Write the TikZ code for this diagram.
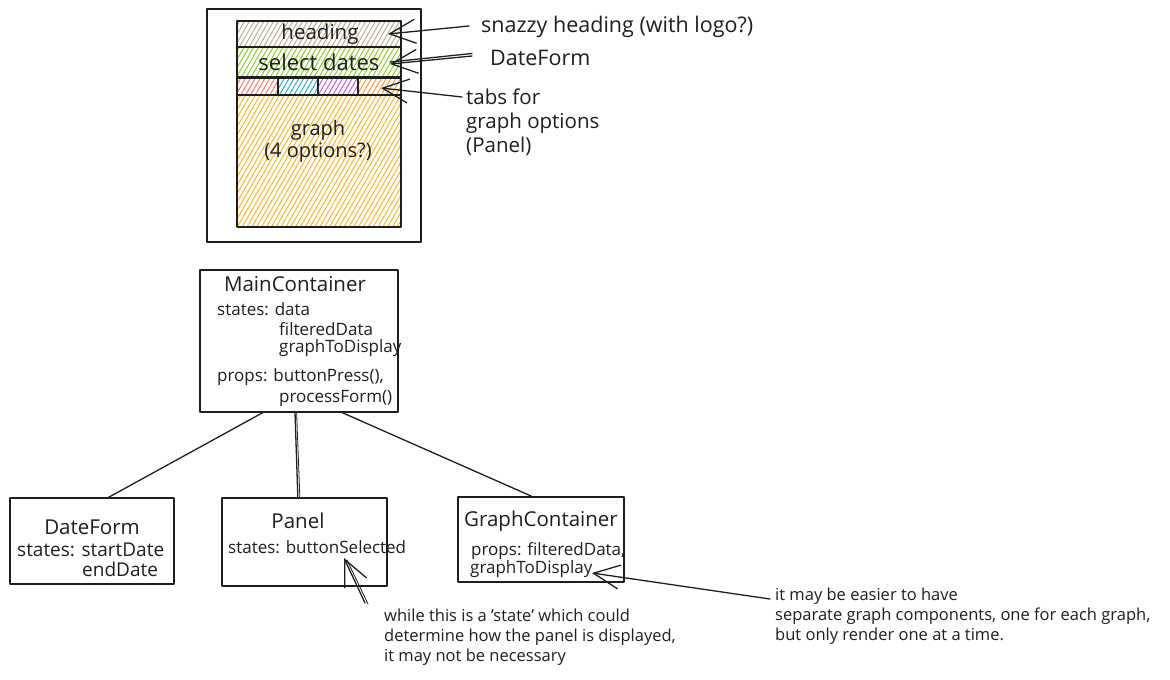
\documentclass[tikz,border=0pt]{standalone}
\usepackage{fontspec}
\setmainfont{Open Sans}
\usetikzlibrary{arrows.meta,patterns.meta,calc}
\definecolor{ink}{HTML}{1E1E1E}
\definecolor{hgray}{HTML}{BDB092}
\definecolor{hgreen}{HTML}{8CCF2A}
\definecolor{hred}{HTML}{FF7B6B}
\definecolor{hteal}{HTML}{22B0C2}
\definecolor{hpurple}{HTML}{C45BDF}
\definecolor{horange}{HTML}{FD9A2A}
\definecolor{hyellow}{HTML}{FBB826}
\begin{document}
\begin{tikzpicture}[x=1pt,y=-1pt,
  ln/.style={line width=1.3pt, draw=ink, line cap=round, line join=round},
  box/.style={ln, rectangle, inner sep=0pt},
  big/.style={font=\fontsize{20.5}{23}\selectfont, inner sep=0pt, text=ink},
  mid/.style={font=\fontsize{17}{20}\selectfont, inner sep=0pt, text=ink},
  small/.style={font=\fontsize{16.5}{20}\selectfont, inner sep=0pt, text=ink},
  hatch/.style={pattern={Lines[angle=60,distance=4.2pt,line width=1pt]}, pattern color=#1},
  arr/.style={ln, -{Straight Barb[length=26pt,width=24pt,line width=1.3pt]}},
]
\useasboundingbox (0,0) rectangle (1170,680);

% ---------- wireframe ----------
\draw[ln] (207,9) rectangle (421,242);
\draw[ln, hatch=hgray] (237,21) rectangle (401,47);
\draw[ln, hatch=hgreen] (237,47) rectangle (401,77);
\draw[ln, hatch=hred] (237,78) rectangle (278,95);
\draw[ln, hatch=hteal] (278,78) rectangle (318,95);
\draw[ln, hatch=hpurple] (318,78) rectangle (358,95);
\draw[ln, hatch=horange] (358,78) rectangle (401,95);
\draw[ln, hatch=hyellow] (237,95) rectangle (401,227);

\node[big] (th) at (320,34) {heading};
\node[big, font=\fontsize{22}{24}\selectfont] (ts) at (319,62) {select dates};
\node[big, align=center, font=\fontsize{20}{22}\selectfont] (tg) at (318,141) {graph\\(4 options?)};

\coordinate (tipH) at (388,34);
\coordinate (tipD) at (390,64);
\coordinate (tipT) at (381,88);

\node[big, font=\fontsize{21.5}{24}\selectfont, anchor=west] (snazzy) at (481,27) {snazzy heading (with logo?)};
\node[big, font=\fontsize{21.5}{24}\selectfont, anchor=west] (dform) at (490,58) {DateForm};
\node[big, font=\fontsize{20.5}{24}\selectfont, anchor=north west, align=left] (tabs) at (466,89) {tabs for\\graph options\\(Panel)};

\draw[arr] ([xshift=-12pt,yshift=1pt]snazzy.west) -- (tipH);
\draw[arr] ([xshift=-18pt,yshift=2pt]dform.west) -- (tipD);
\draw[ln] ([xshift=-18pt,yshift=4.5pt]dform.west) -- ([yshift=2pt]tipD);
\draw[arr] (tabs.west |- 0,97) ++(-4,0) -- (tipT);

% ---------- component boxes ----------
\node[box, minimum width=198pt, minimum height=142pt] (main) at (299,341) {};
\node[big] at (295,284) {MainContainer};
\node[mid, anchor=west] at (217,309) {states: data};
\node[mid, anchor=west] at (279,329) {filteredData};
\node[mid, anchor=west] at (279,348) {graphToDisplay};
\node[mid, anchor=west] at (217,377) {props: buttonPress(),};
\node[mid, anchor=west] at (279,398) {processForm()};

\node[box, minimum width=164pt, minimum height=86pt] (date) at (92,541) {};
\node[big] at (92,527) {DateForm};
\node[mid, font=\fontsize{19}{22}\selectfont, anchor=west] at (17,550) {states: startDate};
\node[mid, font=\fontsize{19}{22}\selectfont, anchor=west] at (82,569) {endDate};

\node[box, minimum width=165pt, minimum height=88pt] (panel) at (304.5,542) {};
\node[big] at (298,521) {Panel};
\node[mid, anchor=west] (bsel) at (228,547) {states: buttonSelected};

\node[box, minimum width=166pt, minimum height=85pt] (graph) at (541,539.5) {};
\node[big] at (541,521) {GraphContainer};
\node[mid, anchor=west] at (471,551) {props: filteredData,};
\node[mid, anchor=west] (g2d) at (470,569) {graphToDisplay};

% connectors
\draw[ln] ($(main.south west)!0.318!(main.south east)$) -- ($(date.north west)!0.60!(date.north east)$);
\draw[ln] ($(main.south west)!0.48!(main.south east)$) -- ($(panel.north west)!0.46!(panel.north east)$);
\draw[ln, line width=0.8pt] ($(main.south west)!0.478!(main.south east)+(2,0)$) -- ($(panel.north west)!0.46!(panel.north east)+(2,0)$);
\draw[ln] ($(main.south west)!0.717!(main.south east)$) -- ($(graph.north west)!0.445!(graph.north east)$);

% notes
\coordinate (tipP) at (344,558);
\coordinate (tipG) at (592,573);
\node[small, anchor=north west, align=left] (pnote) at (384,609) {while this is a 'state' which could\\determine how the panel is displayed,\\it may not be necessary};
\node[small, anchor=north west, align=left] (gnote) at (775,588) {it may be easier to have\\separate graph components, one for each graph,\\but only render one at a time.};

\draw[arr] ([xshift=-19pt,yshift=6pt]pnote.north west) -- (tipP);
\draw[ln, line width=0.8pt] ([xshift=-16pt,yshift=5pt]pnote.north west) -- (347,560);
\draw[arr] (gnote.north west |- 0,599) ++(-5,0) -- (tipG);
\end{tikzpicture}
\end{document}
